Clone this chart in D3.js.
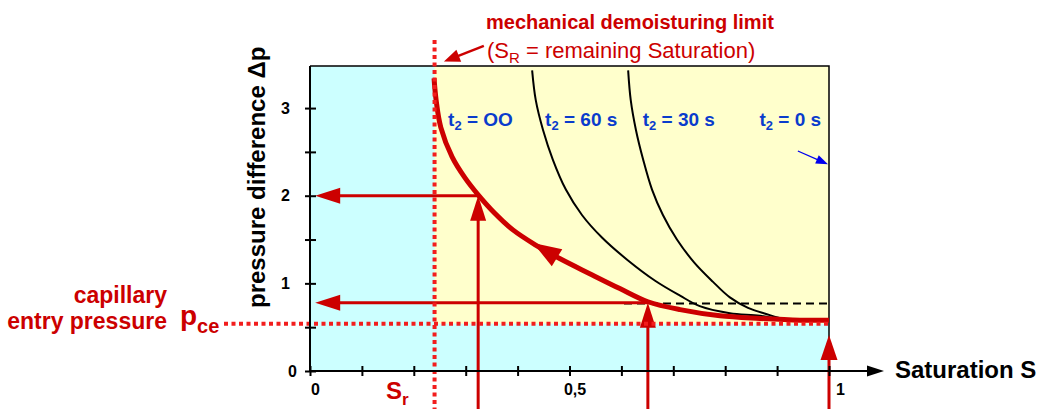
<!DOCTYPE html>
<html><head><meta charset="utf-8">
<script src="https://cdn.jsdelivr.net/npm/d3@7"></script>
<style>
html,body{margin:0;padding:0;background:#fff;}
svg{display:block;font-family:"Liberation Sans",Arial,sans-serif;}
</style></head>
<body><svg id="c" width="1045" height="409"></svg>
<script>
// ---- data ----
const xDomain = [0, 1];
const yDomain = [0, 3.48];
const xTicks = [0, 0.1, 0.2, 0.3, 0.4, 0.5, 0.6, 0.7, 0.8, 0.9, 1];
const xLabelValues = [0, 0.5, 1];
const xLabelText = ["0", "0,5", "1"];
const yTicks = [0, 0.5, 1, 1.5, 2, 2.5, 3];
const yLabelValues = [0, 1, 2, 3];
const yLabelText = ["0", "1", "2", "3"];

const Sr = 0.24;      // remaining saturation
const pce = 0.54;     // capillary entry pressure

// t2 = infinity (red)
const sInf = [0.239, 0.243, 0.252, 0.274, 0.299, 0.324, 0.356, 0.391, 0.434, 0.482, 0.539, 0.597, 0.651, 0.713, 0.790, 0.867, 0.944, 1.0];
const pInf = [3.34, 3.09, 2.78, 2.44, 2.20, 2.01, 1.80, 1.61, 1.44, 1.28, 1.11, 0.94, 0.79, 0.70, 0.63, 0.60, 0.58, 0.58];
// t2 = 60 s
const s60 = [0.428, 0.435, 0.449, 0.468, 0.493, 0.524, 0.563, 0.611, 0.665, 0.713, 0.751, 0.809, 0.867, 0.915, 0.950, 0.973];
const p60 = [3.43, 3.09, 2.75, 2.41, 2.07, 1.78, 1.52, 1.27, 1.03, 0.86, 0.74, 0.66, 0.63, 0.58, 0.57, 0.59];
// t2 = 30 s
const s30 = [0.613, 0.618, 0.628, 0.642, 0.659, 0.680, 0.707, 0.740, 0.776, 0.809, 0.844, 0.879, 0.915, 0.950, 0.973];
const p30 = [3.43, 3.09, 2.75, 2.41, 2.07, 1.78, 1.50, 1.24, 1.02, 0.84, 0.72, 0.65, 0.59, 0.57, 0.59];

// dashed reference level
const dashLevel = 0.77;
const dashFrom = 0.605;

// read-off arrows: saturation -> pressure
const readS = [0.324, 0.651];
const readP = [2.00, 0.78];
// arrow at S = 1 up to
const s1ArrowTip = 0.41;

// curve arrow (tail -> tip)
const curveArrowS = [0.474, 0.430];
const curveArrowP = [1.30, 1.46];
// blue arrow (t2 = 0 s)
const blueArrowS = [0.940, 0.998];
const blueArrowP = [2.51, 2.36];
// title arrow
const titleArrowS = [0.335, 0.258];
const titleArrowP = [3.71, 3.53];

const curveLabels = ["OO", "60 s", "30 s", "0 s"];
const curveLabelS = [0.266, 0.453, 0.641, 0.866];
const curveLabelP = [2.80, 2.80, 2.80, 2.80];

// ---- drawing ----
const svg = d3.select("#c");
const W = 1045, H = 409;
const x = d3.scaleLinear().domain(xDomain).range([310, 829]);
const y = d3.scaleLinear().domain(yDomain).range([371, 66]);

const RED = "#cc0000", DOT = "#f21d1d", BLUE = "#0a3ccc";
const FONT = "'Liberation Sans', Arial, sans-serif";

// backgrounds
svg.append("rect").attr("x", x(0)).attr("y", y(yDomain[1]))
  .attr("width", x(1) - x(0)).attr("height", y(0) - y(yDomain[1])).attr("fill", "#ccffff");
svg.append("rect").attr("x", x(Sr)).attr("y", y(yDomain[1]))
  .attr("width", x(1) - x(Sr)).attr("height", y(pce) - y(yDomain[1])).attr("fill", "#ffffcc");

// border (top, right)
svg.append("path").attr("d", `M${x(0)},${y(yDomain[1])}H${x(1)}V${y(0)}`)
  .attr("fill", "none").attr("stroke", "#000").attr("stroke-width", 1.5);

const line = d3.line().x(d => x(d[0])).y(d => y(d[1])).curve(d3.curveCatmullRom.alpha(0.5));
const zip = (a, b) => a.map((v, i) => [v, b[i]]);

// dashed reference
svg.append("line").attr("x1", x(dashFrom)).attr("x2", x(1)).attr("y1", y(dashLevel)).attr("y2", y(dashLevel))
  .attr("stroke", "#000").attr("stroke-width", 2).attr("stroke-dasharray", "8,5");

// black curves
[[s60, p60], [s30, p30]].forEach(([s, p]) => {
  svg.append("path").attr("d", line(zip(s, p))).attr("fill", "none")
    .attr("stroke", "#000").attr("stroke-width", 2);
});

function arrowHead(g, x1, y1, x2, y2, len, hw, color) {
  const dx = x2 - x1, dy = y2 - y1, L = Math.hypot(dx, dy);
  const ux = dx / L, uy = dy / L;
  const bx = x2 - ux * len, by = y2 - uy * len;
  g.append("path").attr("d",
    `M${x2},${y2}L${bx - uy * hw},${by + ux * hw}L${bx + uy * hw},${by - ux * hw}Z`)
    .attr("fill", color);
}
function arrow(g, x1, y1, x2, y2, len, hw, color, sw) {
  const dx = x2 - x1, dy = y2 - y1, L = Math.hypot(dx, dy);
  const ux = dx / L, uy = dy / L;
  g.append("line").attr("x1", x1).attr("y1", y1)
    .attr("x2", x2 - ux * len * 0.8).attr("y2", y2 - uy * len * 0.8)
    .attr("stroke", color).attr("stroke-width", sw);
  arrowHead(g, x1, y1, x2, y2, len, hw, color);
}

// read-off arrows
readS.forEach((s, i) => {
  arrow(svg, x(s), H, x(s), y(readP[i]), 25, 8, RED, 3);
  arrow(svg, x(s), y(readP[i]), x(0.01), y(readP[i]), 25, 8, RED, 3);
});
arrow(svg, x(1), H, x(1), y(s1ArrowTip), 25, 8.5, RED, 3);

// red curve t2 = inf
svg.append("path").attr("d", line(zip(sInf, pInf))).attr("fill", "none")
  .attr("stroke", RED).attr("stroke-width", 5);
arrowHead(svg, x(curveArrowS[0]), y(curveArrowP[0]), x(curveArrowS[1]), y(curveArrowP[1]), 28, 10, RED);

// dotted limits
svg.append("line").attr("x1", x(Sr)).attr("x2", x(Sr)).attr("y1", 40).attr("y2", H)
  .attr("stroke", DOT).attr("stroke-width", 4).attr("stroke-dasharray", "4,3.5");
svg.append("line").attr("x1", 224).attr("x2", x(1) + 2).attr("y1", y(pce)).attr("y2", y(pce))
  .attr("stroke", DOT).attr("stroke-width", 4).attr("stroke-dasharray", "4,3.5");

// blue arrow
arrow(svg, x(blueArrowS[0]), y(blueArrowP[0]), x(blueArrowS[1]), y(blueArrowP[1]), 12, 4.5, "#0000ee", 1.3);
// title arrow
arrow(svg, x(titleArrowS[0]), y(titleArrowP[0]), x(titleArrowS[1]), y(titleArrowP[1]), 16, 6.5, RED, 2.5);

// axes
const xAxisG = svg.append("g").attr("transform", `translate(0,${y(0)})`)
  .call(d3.axisBottom(x).tickValues(xTicks).tickFormat("").tickSizeOuter(0).tickSizeInner(5));
xAxisG.select(".domain").remove();
xAxisG.selectAll(".tick line").attr("y1", -5).attr("y2", 5).attr("stroke", "#000").attr("stroke-width", 2);

const yAxisG = svg.append("g").attr("transform", `translate(${x(0)},0)`)
  .call(d3.axisLeft(y).tickValues(yTicks).tickFormat("").tickSizeOuter(0).tickSizeInner(5));
yAxisG.select(".domain").remove();
yAxisG.selectAll(".tick line").attr("x1", -5).attr("x2", 6).attr("stroke", "#000").attr("stroke-width", 2);

// axis lines
svg.append("line").attr("x1", x(0)).attr("x2", x(0)).attr("y1", y(yDomain[1])).attr("y2", y(0))
  .attr("stroke", "#000").attr("stroke-width", 2);
svg.append("line").attr("x1", x(0)).attr("x2", 870).attr("y1", y(0)).attr("y2", y(0))
  .attr("stroke", "#000").attr("stroke-width", 2);
arrowHead(svg, 860, y(0), 884, y(0), 17, 5.5, "#000");

// tick labels
const xl = svg.append("g").attr("transform", `translate(0,${y(0)})`)
  .call(d3.axisBottom(x).tickValues(xLabelValues).tickFormat((d, i) => xLabelText[i]).tickSize(0).tickPadding(13));
xl.select(".domain").remove();
xl.selectAll("text").attr("font-family", FONT).attr("font-weight", "bold").attr("font-size", 16)
  .attr("fill", "#000").attr("dx", (d, i) => i === 2 ? 11 : 5);

const yl = svg.append("g").attr("transform", `translate(${x(0)},0)`)
  .call(d3.axisLeft(y).tickValues(yLabelValues).tickFormat((d, i) => yLabelText[i]).tickSize(0).tickPadding(20));
yl.select(".domain").remove();
yl.selectAll("text").attr("font-family", FONT).attr("font-weight", "bold").attr("font-size", 16)
  .attr("fill", "#000").attr("dx", (d, i) => i === 0 ? 7 : 0);

// axis titles
svg.append("text").attr("x", 895).attr("y", 378).attr("font-family", FONT).attr("font-weight", "bold")
  .attr("font-size", 24).attr("fill", "#000").text("Saturation S");
svg.append("text").attr("transform", "translate(265,308) rotate(-90)").attr("font-family", FONT)
  .attr("font-weight", "bold").attr("font-size", 24).attr("fill", "#000").text("pressure difference Δp");

// curve labels
curveLabels.forEach((lab, i) => {
  const t = svg.append("text").attr("x", x(curveLabelS[i])).attr("y", y(curveLabelP[i]))
    .attr("font-family", FONT).attr("font-weight", "bold").attr("font-size", 19).attr("fill", BLUE);
  t.append("tspan").text("t");
  t.append("tspan").attr("font-size", 13).attr("dy", 4).text("2");
  t.append("tspan").attr("dy", -4).text(" = " + lab);
});

// title
svg.append("text").attr("x", 486).attr("y", 29).attr("font-family", FONT).attr("font-weight", "bold")
  .attr("font-size", 20).attr("fill", RED).text("mechanical demoisturing limit");
{
  const t = svg.append("text").attr("x", 487).attr("y", 58).attr("font-family", FONT)
    .attr("font-size", 22).attr("fill", RED);
  t.append("tspan").text("(S");
  t.append("tspan").attr("font-size", 15).attr("dy", 5).text("R");
  t.append("tspan").attr("dy", -5).text(" = remaining Saturation)");
}

// capillary entry pressure
svg.append("text").attr("x", 167).attr("y", 303).attr("text-anchor", "end").attr("font-family", FONT)
  .attr("font-weight", "bold").attr("font-size", 23).attr("fill", RED).text("capillary");
svg.append("text").attr("x", 167).attr("y", 329).attr("text-anchor", "end").attr("font-family", FONT)
  .attr("font-weight", "bold").attr("font-size", 23).attr("fill", RED).text("entry pressure");
{
  const t = svg.append("text").attr("x", 180).attr("y", 325).attr("font-family", FONT)
    .attr("font-weight", "bold").attr("font-size", 28).attr("fill", RED);
  t.append("tspan").text("p");
  t.append("tspan").attr("font-size", 20).attr("dy", 8).text("ce");
}
// S_r
{
  const t = svg.append("text").attr("x", 386).attr("y", 399).attr("font-family", FONT)
    .attr("font-weight", "bold").attr("font-size", 24).attr("fill", RED);
  t.append("tspan").text("S");
  t.append("tspan").attr("font-size", 17).attr("dy", 6).text("r");
}
</script>
</body></html>
